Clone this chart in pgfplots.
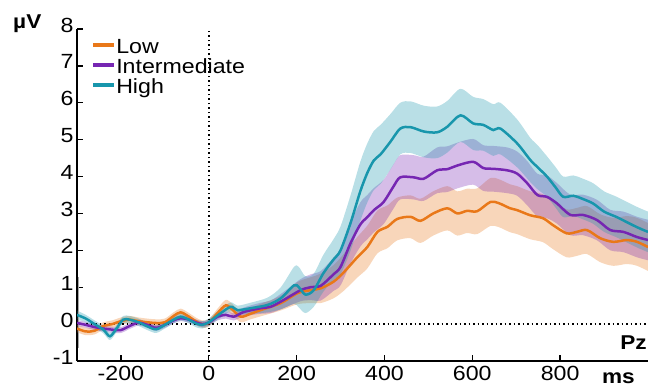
\documentclass[border=0pt]{standalone}
\usepackage{pgfplots}
\pgfplotsset{compat=1.18}
\usepgfplotslibrary{fillbetween}
\usepackage{pgfplotstable}
\usepackage{fontspec}
\setmainfont{Liberation Sans}[FakeStretch=1.13]
\definecolor{lowc}{RGB}{233,120,25}
\definecolor{midc}{RGB}{118,38,178}
\definecolor{highc}{RGB}{24,150,172}

\pgfplotstableread{
t m e
-300 -0.12 0.1
-280 -0.2 0.1
-260 -0.18 0.1
-240 -0.05 0.1
-220 0.0 0.1
-200 0.08 0.1
-180 0.12 0.1
-160 0.08 0.1
-140 0.05 0.1
-120 0.03 0.1
-100 0.05 0.1
-80 0.22 0.1
-64 0.32 0.1
-45 0.2 0.1
-30 0.08 0.1
-15 0.0 0.1
0 0.03 0.1
20 0.3 0.12
39 0.51 0.15
55 0.38 0.15
73 0.2 0.15
95 0.28 0.15
118 0.38 0.17
164 0.57 0.2
202 0.84 0.3
232 0.92 0.35
255 0.97 0.4
284 1.15 0.45
307 1.4 0.5
338 1.81 0.55
361 2.09 0.58
384 2.5 0.58
407 2.64 0.58
429 2.85 0.58
459 2.91 0.58
482 2.8 0.6
511 3.0 0.6
543 3.14 0.6
566 3.0 0.6
588 3.07 0.6
611 3.06 0.62
641 3.31 0.65
660 3.28 0.65
686 3.14 0.65
702 3.09 0.65
732 2.95 0.65
761 2.87 0.65
784 2.68 0.65
815 2.46 0.65
838 2.5 0.65
861 2.55 0.65
891 2.33 0.65
921 2.23 0.65
952 2.28 0.65
975 2.23 0.65
1000 2.09 0.65
}\lowtab

\pgfplotstableread{
t m e
-300 0.03 0.08
-280 -0.02 0.08
-260 -0.08 0.08
-240 -0.12 0.08
-220 -0.15 0.08
-200 -0.16 0.08
-180 -0.05 0.08
-160 0.04 0.08
-140 -0.02 0.08
-120 -0.1 0.08
-100 -0.02 0.08
-80 0.1 0.08
-64 0.16 0.08
-45 0.12 0.08
-30 0.05 0.08
-15 0.0 0.08
0 0.04 0.08
20 0.2 0.1
39 0.25 0.1
57 0.2 0.1
80 0.33 0.12
118 0.43 0.15
141 0.47 0.17
170 0.65 0.22
209 0.92 0.3
232 1.0 0.35
255 1.04 0.4
284 1.35 0.45
300 1.55 0.5
323 2.2 0.55
345 2.7 0.6
361 2.9 0.6
376 3.09 0.6
398 3.31 0.6
420 3.72 0.6
436 3.98 0.6
466 3.98 0.6
489 3.94 0.6
520 4.17 0.62
543 4.2 0.62
566 4.3 0.62
602 4.4 0.62
625 4.23 0.62
648 4.21 0.62
679 4.17 0.62
702 4.08 0.6
725 3.82 0.6
748 3.5 0.58
770 3.45 0.58
793 3.27 0.55
823 2.96 0.55
852 2.96 0.55
884 2.82 0.55
914 2.55 0.55
944 2.5 0.55
975 2.36 0.55
1000 2.28 0.55
}\midtab

\pgfplotstableread{
t m e
-300 0.25 0.12
-280 0.15 0.1
-260 0.0 0.1
-240 -0.15 0.1
-225 -0.33 0.1
-210 -0.12 0.1
-195 0.12 0.1
-180 0.12 0.1
-160 0.05 0.1
-140 -0.06 0.1
-120 -0.14 0.1
-100 -0.02 0.1
-80 0.12 0.1
-64 0.2 0.1
-45 0.12 0.1
-30 0.02 0.1
-15 -0.02 0.1
0 0.05 0.1
23 0.26 0.12
50 0.47 0.12
65 0.38 0.12
95 0.43 0.15
134 0.52 0.2
164 0.7 0.3
194 1.05 0.5
205 1.0 0.55
220 0.8 0.5
239 0.92 0.45
261 1.38 0.5
284 1.75 0.55
300 2.0 0.65
323 2.75 0.75
345 3.6 0.8
361 4.1 0.8
376 4.44 0.8
391 4.6 0.8
414 4.95 0.75
436 5.3 0.7
459 5.34 0.7
490 5.22 0.7
520 5.2 0.7
543 5.35 0.7
573 5.66 0.72
602 5.44 0.72
625 5.4 0.7
648 5.26 0.7
664 5.3 0.7
702 4.9 0.65
732 4.45 0.6
748 4.26 0.6
770 4.0 0.55
790 3.7 0.55
807 3.45 0.55
830 3.48 0.55
850 3.4 0.55
875 3.27 0.55
900 3.05 0.55
929 2.9 0.55
959 2.72 0.55
980 2.6 0.55
1000 2.5 0.55
}\hightab

\begin{document}
\begin{tikzpicture}
\begin{axis}[
  scale only axis, width=571bp, height=332bp,
  xmin=-300, xmax=1000, ymin=-1, ymax=8,
  axis lines*=left,
  axis line style={line width=1.4bp, black},
  tick align=inside,
  major tick length=6bp,
  every tick/.style={black, line width=1.4bp},
  xtick={-200,0,200,400,600,800},
  xticklabels={-200,0,200,400,600,800},
  ytick={-1,0,1,2,3,4,5,6,7,8},
  yticklabels={-1,0,1,2,3,4,5,6,7,8},
  tick label style={font=\fontsize{20.5bp}{24bp}\selectfont},
  yticklabel style={yshift=4bp},
  xticklabel style={yshift=-2bp},
  clip mode=individual,
  legend style={at={(rel axis cs:0.025,0.970)}, anchor=north west, draw=none, fill=none,
    inner sep=0pt, outer sep=0pt, row sep=0pt, column sep=0pt,
    font=\fontsize{20.5bp}{24bp}\selectfont, cells={anchor=west},
    nodes={inner sep=0pt, text height=14.5bp, text depth=5.5bp}},
  legend image code/.code={\draw[#1, line width=4bp] (0bp,3.5bp) -- (21bp,3.5bp);},
]
% bands
\addplot[draw=none, name path=lowhi, forget plot, smooth] table[x=t, y expr=\thisrow{m}+\thisrow{e}] {\lowtab};
\addplot[draw=none, name path=lowlo, forget plot, smooth] table[x=t, y expr=\thisrow{m}-\thisrow{e}] {\lowtab};
\addplot[fill=lowc, fill opacity=0.3, draw=none, forget plot] fill between[of=lowhi and lowlo];
\addplot[draw=none, name path=midhi, forget plot, smooth] table[x=t, y expr=\thisrow{m}+\thisrow{e}] {\midtab};
\addplot[draw=none, name path=midlo, forget plot, smooth] table[x=t, y expr=\thisrow{m}-\thisrow{e}] {\midtab};
\addplot[fill=midc, fill opacity=0.3, draw=none, forget plot] fill between[of=midhi and midlo];
\addplot[draw=none, name path=highhi, forget plot, smooth] table[x=t, y expr=\thisrow{m}+\thisrow{e}] {\hightab};
\addplot[draw=none, name path=highlo, forget plot, smooth] table[x=t, y expr=\thisrow{m}-\thisrow{e}] {\hightab};
\addplot[fill=highc, fill opacity=0.3, draw=none, forget plot] fill between[of=highhi and highlo];
% reference lines
\addplot[black, line width=1.5bp, dash pattern=on 1.5bp off 3bp, forget plot] coordinates {(-300,0) (1000,0)};
\addplot[black, line width=1.5bp, dash pattern=on 1.5bp off 3bp, forget plot] coordinates {(0,-1) (0,8)};
\addplot[gray!70, line width=0.6bp, forget plot] coordinates {(-298,1.27) (-298,-0.65)};
% means
\addplot[lowc, line width=2.5bp, smooth] table[x=t, y=m] {\lowtab};
\addlegendentry{Low}
\addplot[midc, line width=2.5bp, smooth] table[x=t, y=m] {\midtab};
\addlegendentry{Intermediate}
\addplot[highc, line width=2.5bp, smooth] table[x=t, y=m] {\hightab};
\addlegendentry{High}
% labels
\node[anchor=base west, inner sep=0pt, font=\bfseries\fontsize{20bp}{24bp}\selectfont] at (rel axis cs:-0.112,1.003) {µV};
\node[anchor=base east, inner sep=0pt, font=\bfseries\fontsize{20bp}{24bp}\selectfont] at (rel axis cs:0.977,-0.069) {ms};
\node[anchor=base east, inner sep=0pt, font=\bfseries\fontsize{20bp}{24bp}\selectfont] at (rel axis cs:0.998,0.036) {Pz};
\end{axis}
\pgfresetboundingbox
\path ([xshift=-77bp,yshift=-26bp]current axis.south west) rectangle ([yshift=29bp]current axis.north east);
\end{tikzpicture}
\end{document}
